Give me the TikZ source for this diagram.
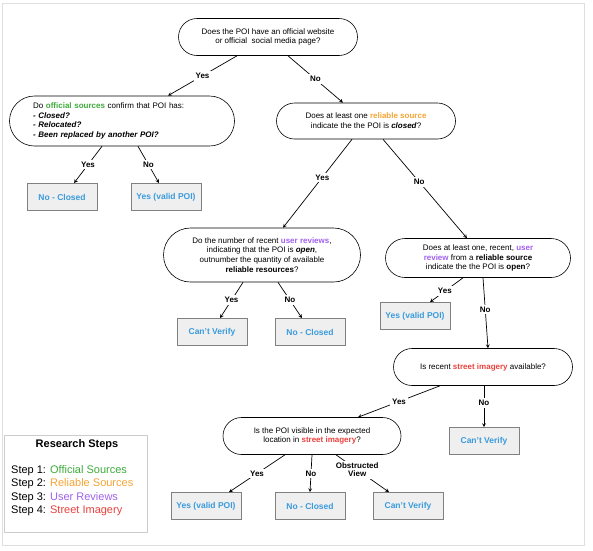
\documentclass[tikz,border=0pt]{standalone}
\usepackage{fontspec}
\setmainfont{Liberation Sans}
\usetikzlibrary{shapes.misc}
\definecolor{officialGreen}{HTML}{3DAA3A}
\definecolor{reliableOrange}{HTML}{F5A433}
\definecolor{reviewPurple}{HTML}{A060EE}
\definecolor{imageryRed}{HTML}{E8413C}
\definecolor{answerBlue}{HTML}{3A9BDC}
\definecolor{boxGray}{HTML}{EFEFEF}

\begin{document}
\begin{tikzpicture}
[-,thin,x=1pt,y=-1pt,%
  lineDecorate/.style={->,>=stealth,line width=0.7pt},%
  questionDecorate/.style={shape=rounded rectangle,draw,line width=0.6pt,align=center,inner sep=2pt,font=\fontsize{8}{9.8}\selectfont},%
  answerDecorate/.style={shape=rectangle,draw=gray,fill=boxGray,line width=0.8pt,minimum width=70pt,minimum height=27pt,text=answerBlue,font=\fontsize{8.5}{10}\selectfont\bfseries},%
  branchDecorate/.style={fill=white,inner sep=2pt,align=center,font=\fontsize{8}{8.5}\selectfont\bfseries}]
\useasboundingbox (0,0) rectangle (593,550);
%% frame and legend
\draw[gray!25,line width=1pt] (2,3) rectangle (584,545);
\draw[gray!40,line width=0.8pt] (4,435) rectangle (147,532);
\node[font=\fontsize{11}{13}\selectfont\bfseries] (legendTitle) at (77,445) {Research Steps};
\foreach \stepnum/\stepname/\stepcolor/\y in {
  1/Official Sources/officialGreen/471, 2/Reliable Sources/reliableOrange/484,
  3/User Reviews/reviewPurple/498, 4/Street Imagery/imageryRed/511}
{
  \node[anchor=west,inner sep=0pt,font=\fontsize{11}{13}\selectfont] (step\stepnum) at (11,\y) {Step \stepnum: \textcolor{\stepcolor}{\stepname}};
}
%% questions
\node[questionDecorate,minimum width=183pt,minimum height=37pt] (q1) at (268,37)
  {Does the POI have an official website\\or official\ \ social media page?};
\node[questionDecorate,minimum width=229pt,minimum height=50pt,align=left,text width=178pt] (q2) at (122,121)
  {Do \textbf{\color{officialGreen}official sources} confirm that POI has:\\
   \textbf{\textit{- Closed?}}\\\textbf{\textit{- Relocated?}}\\\textbf{\textit{- Been replaced by another POI?}}};
\node[questionDecorate,minimum width=183pt,minimum height=36pt] (q3) at (366,121)
  {Does at least one \textbf{\color{reliableOrange}reliable source}\\indicate the the POI is \textbf{\textit{closed}}?};
\node[questionDecorate,minimum width=201pt,minimum height=54pt] (q4) at (262,255)
  {Do the number of recent \textbf{\color{reviewPurple}user reviews},\\indicating that the POI is \textbf{\textit{open}},\\
   outnumber the quantity of available\\\textbf{reliable resources}?};
\node[questionDecorate,minimum width=189pt,minimum height=39pt] (q5) at (478,258)
  {Does at least one, recent, \textbf{\color{reviewPurple}user}\\\textbf{\color{reviewPurple}review} from a \textbf{reliable source}\\
   indicate the the POI is \textbf{open}?};
\node[questionDecorate,minimum width=183pt,minimum height=37pt] (q6) at (483,367)
  {Is recent \textbf{\color{imageryRed}street imagery} available?};
\node[questionDecorate,minimum width=182pt,minimum height=37pt] (q7) at (312,436)
  {Is the POI visible in the expected\\location in \textbf{\color{imageryRed}street imagery}?};
%% answers
\node[answerDecorate] (a1) at (62,197) {No - Closed};
\node[answerDecorate] (a2) at (166,197) {Yes (valid POI)};
\node[answerDecorate] (a3) at (212,332) {Can't Verify};
\node[answerDecorate] (a4) at (310,332) {No - Closed};
\node[answerDecorate] (a5) at (415,316) {Yes (valid POI)};
\node[answerDecorate] (a6) at (484,441) {Can't Verify};
\node[answerDecorate] (a7) at (206,506) {Yes (valid POI)};
\node[answerDecorate] (a8) at (310,506) {No - Closed};
\node[answerDecorate] (a9) at (408,506) {Can't Verify};
%% branches
\draw[lineDecorate] ([xshift=-31pt]q1.south) -- node[branchDecorate] {Yes} ([xshift=46pt]q2.north);
\draw[lineDecorate] ([xshift=20pt]q1.south) -- node[branchDecorate] {No} ([xshift=-23pt]q3.north);
\draw[lineDecorate] ([xshift=-20pt]q2.south) -- node[branchDecorate] {Yes} ([xshift=12pt]a1.north);
\draw[lineDecorate] ([xshift=16pt]q2.south) -- node[branchDecorate] {No} ([xshift=-7pt]a2.north);
\draw[lineDecorate] ([xshift=-14pt]q3.south) -- node[branchDecorate,pos=0.43] {Yes} ([xshift=21pt]q4.north);
\draw[lineDecorate] ([xshift=17pt]q3.south) -- node[branchDecorate,pos=0.43] {No} ([xshift=-11pt]q5.north);
\draw[lineDecorate] ([xshift=-19pt]q4.south) -- node[branchDecorate] {Yes} ([xshift=8pt]a3.north);
\draw[lineDecorate] ([xshift=16pt]q4.south) -- node[branchDecorate] {No} ([xshift=-8pt]a4.north);
\draw[lineDecorate] ([xshift=-15pt]q5.south) -- node[branchDecorate,pos=0.55] {Yes} ([xshift=15pt]a5.north);
\draw[lineDecorate] ([xshift=5pt]q5.south) -- node[branchDecorate,pos=0.45] {No} ([xshift=5pt]q6.north);
\draw[lineDecorate] ([xshift=-43pt]q6.south) -- node[branchDecorate] {Yes} ([xshift=46pt]q7.north);
\draw[lineDecorate] ([xshift=1pt]q6.south) -- node[branchDecorate,pos=0.42] {No} (a6.north);
\draw[lineDecorate] ([xshift=-27pt]q7.south) -- node[branchDecorate] {Yes} ([xshift=23pt]a7.north);
\draw[lineDecorate] (q7.south) -- node[branchDecorate] {No} (a8.north);
\draw[lineDecorate] ([xshift=24pt]q7.south) -- node[branchDecorate,pos=0.4] {Obstructed\\View} ([xshift=-19pt]a9.north);
\end{tikzpicture}
\end{document}
